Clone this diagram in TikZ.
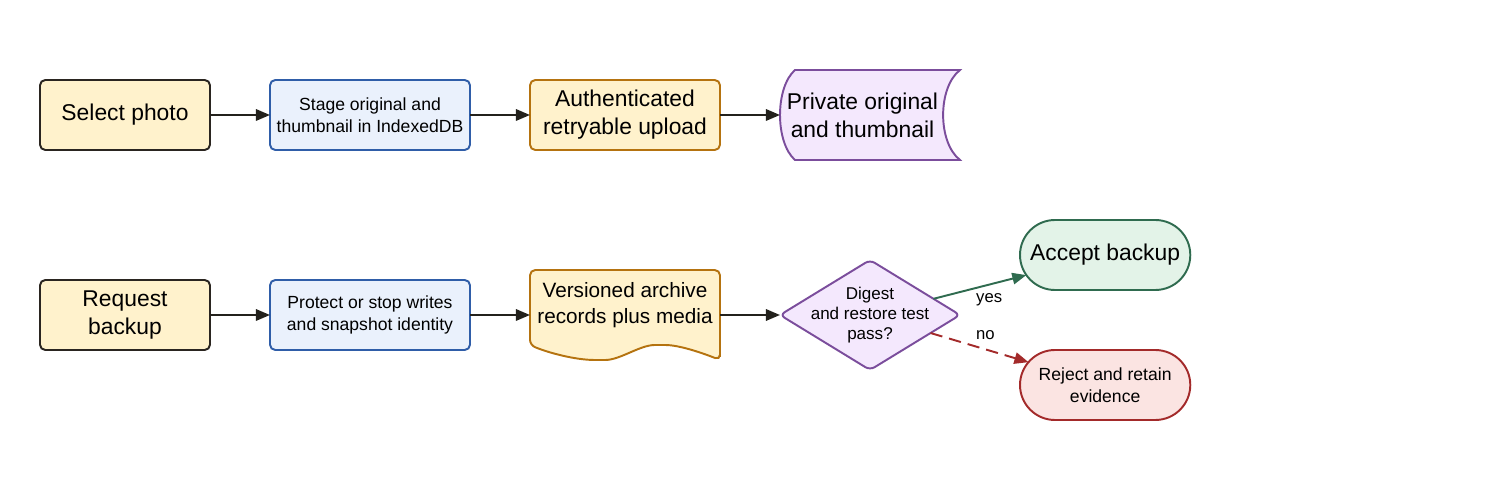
\documentclass[tikz,border=0pt]{standalone}
\usepackage{fontspec}
\setmainfont{Liberation Sans}
\usetikzlibrary{arrows.meta,positioning,shapes.geometric,shapes.misc}

\definecolor{paleyellow}{HTML}{FFF2CC}
\definecolor{startline}{HTML}{2A2520}
\definecolor{actionline}{HTML}{B5730F}
\definecolor{paleblue}{HTML}{EAF1FC}
\definecolor{stageline}{HTML}{2F5DA8}
\definecolor{palepurple}{HTML}{F4E8FD}
\definecolor{purpleline}{HTML}{7B4D9C}
\definecolor{palegreen}{HTML}{E3F3E8}
\definecolor{greenline}{HTML}{2F6B4F}
\definecolor{palered}{HTML}{FBE4E2}
\definecolor{redline}{HTML}{A32A2A}
\definecolor{arrowline}{HTML}{23211C}

\begin{document}
\begin{tikzpicture}
  [node distance=1.2cm,>={Triangle[length=8pt,width=6.5pt]},
   every node/.style={align=center,outer sep=0pt},
   big/.style={font=\fontsize{13}{16}\selectfont},
   small/.style={font=\fontsize{10}{12.5}\selectfont},
   box/.style={rectangle,rounded corners=3pt,line width=1.1pt,minimum height=1.4cm},
   start/.style={box,big,draw=startline,fill=paleyellow,minimum width=3.4cm},
   stage/.style={box,small,draw=stageline,fill=paleblue,minimum width=4cm},
   action/.style={box,big,draw=actionline,fill=paleyellow,minimum width=3.8cm},
   store/.style={rectangle,big,minimum width=3.6cm,minimum height=1.8cm},
   store line/.style={line width=1.1pt,draw=purpleline,fill=palepurple},
   archive/.style={rectangle,font=\fontsize{11.8}{14.8}\selectfont,
     minimum width=3.8cm,minimum height=1.5cm},
   archive line/.style={line width=1.1pt,draw=actionline,fill=paleyellow,rounded corners=3pt},
   decision/.style={diamond,aspect=1.6,line width=1.1pt,draw=purpleline,fill=palepurple,
     rounded corners=3pt,minimum width=3.6cm,minimum height=2.2cm,
     inner xsep=-0.6cm,inner ysep=-0.1cm,font=\fontsize{9.7}{11.4}\selectfont},
   outcome/.style={rounded rectangle,line width=1.1pt,minimum width=3.64cm,minimum height=1.4cm},
   accept/.style={outcome,big,draw=greenline,fill=palegreen},
   reject/.style={outcome,small,draw=redline,fill=palered},
   flow/.style={->,line width=1.1pt,draw=arrowline},
   branch/.style={font=\fontsize{9.5}{11}\selectfont}]

  \useasboundingbox (0,0) rectangle (30,-10);

  % upload path
  \node [start]  (sel)  at (2.5,-2.3)     {Select photo};
  \node [stage]  (stg)  [right=of sel]    {Stage original and\\thumbnail in IndexedDB};
  \node [action] (auth) [right=of stg]    {Authenticated\\retryable upload};
  \node [store]  (priv) [right=of auth]   {};

  \draw [store line] ([xshift=0.3cm]priv.north west) -- (priv.north east)
    .. controls +(-0.45,-0.35) and +(-0.45,0.35) .. (priv.south east)
    -- ([xshift=0.3cm]priv.south west)
    .. controls +(-0.4,0.35) and +(-0.4,-0.35) .. cycle;
  \node [store] at ([xshift=-0.15cm]priv.center) {Private original\\and thumbnail};

  % backup path
  \node [start]    (req)  [below=2.6cm of sel]        {Request\\backup};
  \node [stage]    (prot) [right=of req]              {Protect or stop writes\\and snapshot identity};
  \node [archive]  (arch) [right=of prot,yshift=0.15cm] {};
  \node [decision] (dec)  [right=of arch,yshift=-0.15cm] {Digest\\and restore test\\pass?};
  \node [accept]   (acc)  [right=of dec,yshift=1.2cm]  {Accept backup};
  \node [reject]   (rej)  [right=of dec,yshift=-1.4cm] {Reject and retain\\evidence};

  \draw [archive line] ([yshift=-0.3cm]arch.south east) -- (arch.north east)
    -- (arch.north west) -- (arch.south west)
    .. controls +(0.35,-0.15) and +(-0.5,0) .. ([shift={(1.4,-0.3)}]arch.south west)
    .. controls +(0.4,0) and +(-0.4,0) .. ([xshift=2.6cm]arch.south west)
    .. controls +(0.4,0) and +(-0.3,0.12) .. cycle;
  \node [archive] at ([yshift=0.05cm]arch.center) {Versioned archive\\records plus media};

  \draw [flow] (sel) -- (stg);
  \draw [flow] (stg) -- (auth);
  \draw [flow] (auth) -- (priv);
  \draw [flow] (req) -- (prot);
  \draw [flow] (prot.east) -- (prot.east -| arch.west);
  \draw [flow] (arch.east |- dec.west) -- (dec.west);
  \draw [flow,draw=greenline] (dec) -- node [branch,pos=0.6,below=2pt] {yes} (acc);
  \draw [flow,draw=redline,dash pattern=on 7pt off 4pt] (dec)
    -- node [branch,pos=0.56,above=2pt] {no} (rej);

\end{tikzpicture}
\end{document}
